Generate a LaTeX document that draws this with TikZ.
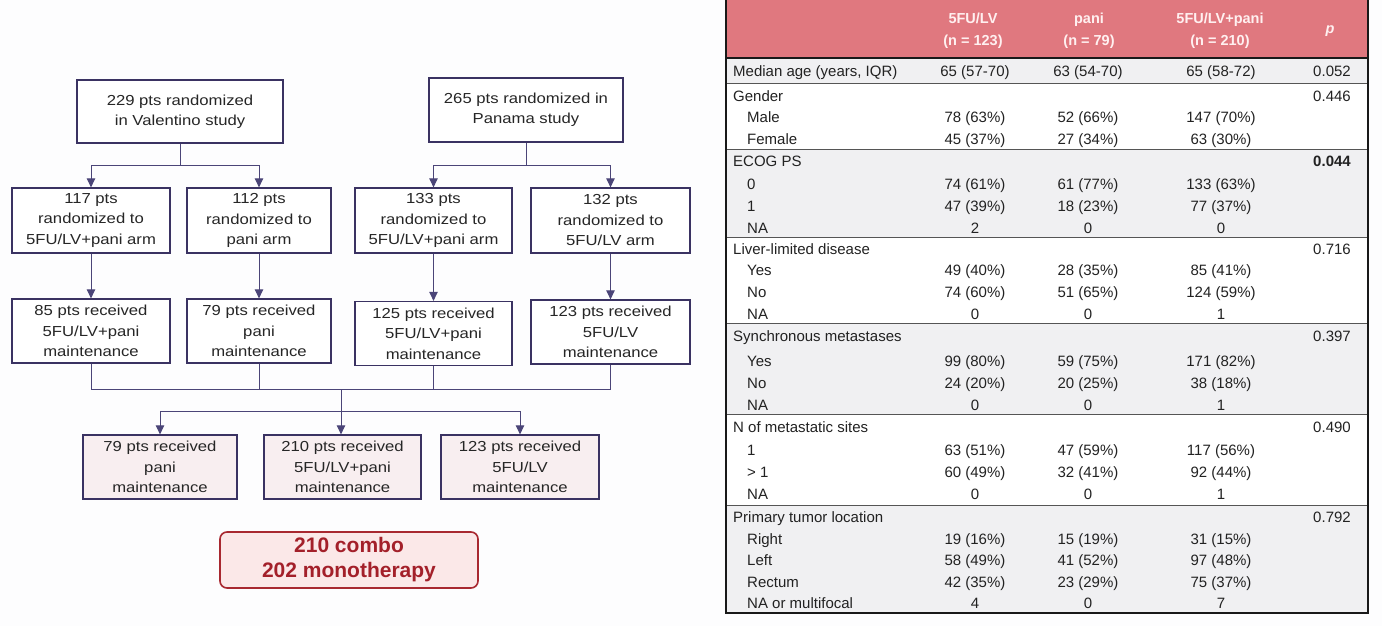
\documentclass[tikz,border=0pt]{standalone}
\usepackage{fontspec}
\setmainfont{Liberation Sans}
\newfontfamily\flowfont[FakeStretch=1.15]{Liberation Sans}
\usetikzlibrary{arrows.meta}
\definecolor{bgcol}{HTML}{FDFDFE}
\definecolor{flowborder}{HTML}{3A3262}
\definecolor{linecol}{HTML}{4B4578}
\definecolor{pinkfill}{HTML}{F8EEF0}
\definecolor{sumborder}{HTML}{A82830}
\definecolor{sumfill}{HTML}{FBE8E8}
\definecolor{sumtext}{HTML}{A3202A}
\definecolor{hdrfill}{HTML}{E0787F}
\definecolor{hdrtext}{HTML}{FFF0F0}
\definecolor{bandgrey}{HTML}{F0F0F2}
\definecolor{tabtext}{HTML}{222222}
\definecolor{sepcol}{HTML}{555555}
\newcommand\ttitle[4]{%
  \node[tlab] (#1-l) at (733,#2) {#3};
  \node[tval] (#1-p) at (1332,#2) {#4};}
\newcommand\tsub[6]{%
  \node[tlab] (#1-l) at (747,#2) {#3};
  \node[tval] (#1-a) at (975,#2) {#4};
  \node[tval] (#1-b) at (1088,#2) {#5};
  \node[tval] (#1-c) at (1221,#2) {#6};}
\begin{document}
\begin{tikzpicture}[x=1pt,y=-1pt,
  fbox/.style={draw=flowborder,line width=1.3pt,fill=white,align=center,inner sep=0pt,
    font=\flowfont\fontsize{14.5}{20.5}\selectfont,text=black!85},
  pbox/.style={fbox,fill=pinkfill},
  conn/.style={draw=linecol,line width=1pt},
  arr/.style={conn,-{Triangle[length=9pt,width=8.5pt]}},
  sumbox/.style={draw=sumborder,line width=1.6pt,fill=sumfill,rounded corners=7pt,
    align=center,inner sep=0pt,text=sumtext,font=\bfseries\fontsize{21}{25}\selectfont,
    minimum width=258pt,minimum height=56pt},
  tlab/.style={anchor=west,inner sep=0pt,text height=10.7pt,text depth=0pt,
    font=\fontsize{15}{18}\selectfont,text=tabtext},
  tval/.style={anchor=center,inner sep=0pt,text height=10.7pt,text depth=0pt,
    font=\fontsize{15}{18}\selectfont,text=tabtext},
  thead/.style={align=center,inner sep=0pt,text=hdrtext,
    font=\bfseries\fontsize{14.5}{22}\selectfont},
  sep/.style={draw=sepcol,line width=1pt}]
\useasboundingbox (0,0) rectangle (1382,626);
\fill[bgcol] (0,0) rectangle (1382,626);

% ---------- flowchart ----------
\node[fbox,minimum width=206pt,minimum height=63pt] (tl) at (180,111.5) {229 pts randomized\\in Valentino study};
\node[fbox,minimum width=194pt,minimum height=64pt] (tr) at (526,110) {265 pts randomized in\\Panama study};

\node[fbox,minimum width=158pt,minimum height=65pt] (l1) at (91,220.5) {117 pts\\randomized to\\5FU/LV+pani arm};
\node[fbox,minimum width=144pt,minimum height=65pt] (l2) at (259,220.5) {112 pts\\randomized to\\pani arm};
\node[fbox,minimum width=157pt,minimum height=65pt] (r1) at (433.5,220.5) {133 pts\\randomized to\\5FU/LV+pani arm};
\node[fbox,minimum width=159pt,minimum height=65pt] (r2) at (610.5,220.5) {132 pts\\randomized to\\5FU/LV arm};

\node[fbox,minimum width=158pt,minimum height=64pt] (l1b) at (91,331) {85 pts received\\5FU/LV+pani\\maintenance};
\node[fbox,minimum width=144pt,minimum height=64pt] (l2b) at (259,331) {79 pts received\\pani\\maintenance};
\node[fbox,minimum width=157pt,minimum height=64pt] (r1b) at (433.5,333.5) {125 pts received\\5FU/LV+pani\\maintenance};
\node[fbox,minimum width=159pt,minimum height=64pt] (r2b) at (610.5,332) {123 pts received\\5FU/LV\\maintenance};

\node[pbox,minimum width=154pt,minimum height=64pt] (A) at (160,467) {79 pts received\\pani\\maintenance};
\node[pbox,minimum width=157pt,minimum height=64pt] (B) at (342.5,467) {210 pts received\\5FU/LV+pani\\maintenance};
\node[pbox,minimum width=158pt,minimum height=64pt] (C) at (520,467) {123 pts received\\5FU/LV\\maintenance};

\node[sumbox] (S) at (349,560) {210 combo\\202 monotherapy};

% connectors
\draw[conn] (tl.south) -- (tl.south |- 0,165) coordinate (jl);
\draw[arr] (jl) -| (l1.north);
\draw[arr] (jl) -| (l2.north);
\draw[conn] (tr.south) -- (tr.south |- 0,165) coordinate (jr);
\draw[arr] (jr) -| (r1.north);
\draw[arr] (jr) -| (r2.north);

\draw[arr] (l1.south) -- (l1b.north);
\draw[arr] (l2.south) -- (l2b.north);
\draw[arr] (r1.south) -- (r1b.north);
\draw[arr] (r2.south) -- (r2b.north);

\coordinate (m) at (341,389);
\draw[conn] (l1b.south) |- (m);
\draw[conn] (l2b.south) |- (m);
\draw[conn] (r1b.south) |- (m);
\draw[conn] (r2b.south) |- (m);
\draw[conn] (m) -- (m |- 0,411) coordinate (m2);
\draw[arr] (m2) -| (A.north);
\draw[arr] (m2) -- (B.north -| m2);
\draw[arr] (m2) -| (C.north);

% ---------- table ----------
\fill[hdrfill] (726,0) rectangle (1368,58);
\fill[bandgrey] (726,58) rectangle (1368,84);
\fill[white] (726,84) rectangle (1368,149);
\fill[bandgrey] (726,149) rectangle (1368,237);
\fill[white] (726,237) rectangle (1368,323);
\fill[bandgrey] (726,323) rectangle (1368,414);
\fill[white] (726,414) rectangle (1368,505);
\fill[bandgrey] (726,505) rectangle (1368,613);
\draw[sep] (726,84) -- (1368,84);
\draw[sep] (726,149) -- (1368,149);
\draw[sep] (726,237) -- (1368,237);
\draw[sep] (726,323) -- (1368,323);
\draw[sep] (726,414) -- (1368,414);
\draw[sep] (726,505) -- (1368,505);
\draw[black!90,line width=2.2pt] (726,58) -- (1368,58);
\draw[black!90,line width=1.5pt] (726,0) -- (726,613) -- (1368,613) -- (1368,0);

\node[thead] (h1) at (973,31) {5FU/LV\\(n = 123)};
\node[thead] (h2) at (1089,31) {pani\\(n = 79)};
\node[thead] (h3) at (1220,31) {5FU/LV+pani\\(n = 210)};
\node[thead] (h4) at (1330,31) {\itshape p};

\ttitle{age}{71}{Median age (years, IQR)}{0.052}
\node[tval] (age-a) at (975,71) {65 (57-70)};
\node[tval] (age-b) at (1088,71) {63 (54-70)};
\node[tval] (age-c) at (1221,71) {65 (58-72)};

\ttitle{gen}{96}{Gender}{0.446}
\tsub{genm}{117}{Male}{78 (63\%)}{52 (66\%)}{147 (70\%)}
\tsub{genf}{139}{Female}{45 (37\%)}{27 (34\%)}{63 (30\%)}

\ttitle{ecog}{161}{ECOG PS}{\bfseries 0.044}
\tsub{ecoga}{184}{0}{74 (61\%)}{61 (77\%)}{133 (63\%)}
\tsub{ecogb}{206}{1}{47 (39\%)}{18 (23\%)}{77 (37\%)}
\tsub{ecogc}{228}{NA}{2}{0}{0}

\ttitle{liv}{249}{Liver-limited disease}{0.716}
\tsub{liva}{270}{Yes}{49 (40\%)}{28 (35\%)}{85 (41\%)}
\tsub{livb}{292}{No}{74 (60\%)}{51 (65\%)}{124 (59\%)}
\tsub{livc}{314}{NA}{0}{0}{1}

\ttitle{syn}{336}{Synchronous metastases}{0.397}
\tsub{syna}{361}{Yes}{99 (80\%)}{59 (75\%)}{171 (82\%)}
\tsub{synb}{383}{No}{24 (20\%)}{20 (25\%)}{38 (18\%)}
\tsub{sync}{405}{NA}{0}{0}{1}

\ttitle{met}{427}{N of metastatic sites}{0.490}
\tsub{meta}{450}{1}{63 (51\%)}{47 (59\%)}{117 (56\%)}
\tsub{metb}{472}{> 1}{60 (49\%)}{32 (41\%)}{92 (44\%)}
\tsub{metc}{494}{NA}{0}{0}{1}

\ttitle{pri}{517}{Primary tumor location}{0.792}
\tsub{pria}{539}{Right}{19 (16\%)}{15 (19\%)}{31 (15\%)}
\tsub{prib}{560}{Left}{58 (49\%)}{41 (52\%)}{97 (48\%)}
\tsub{pric}{582}{Rectum}{42 (35\%)}{23 (29\%)}{75 (37\%)}
\tsub{prid}{603}{NA or multifocal}{4}{0}{7}
\end{tikzpicture}
\end{document}
